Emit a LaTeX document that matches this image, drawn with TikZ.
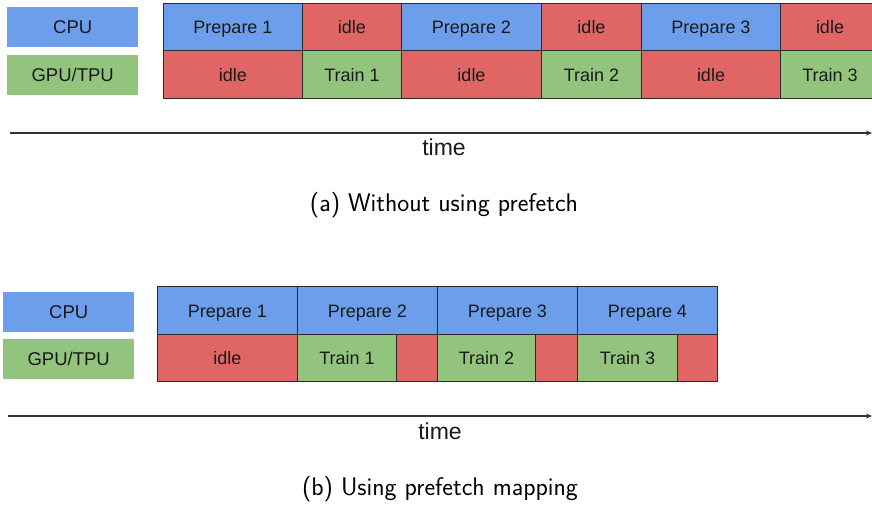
\documentclass[tikz,border=0pt]{standalone}
\usepackage{fontspec}
\setmainfont{Liberation Sans}
\usetikzlibrary{arrows.meta}
\definecolor{cpublue}{HTML}{6D9EEB}
\definecolor{idlered}{HTML}{E06666}
\definecolor{gpugreen}{HTML}{93C47D}
\definecolor{edge}{HTML}{2B2B2B}
\tikzset{
  cell/.style={draw=edge, line width=1pt, anchor=north west, inner sep=0pt,
    text height=13pt, text depth=0pt,
    font=\fontsize{18}{20}\selectfont, text=black!90},
  legend/.style={anchor=north west, inner sep=0pt, minimum width=131pt, minimum height=40pt,
    text height=13pt, text depth=0pt,
    font=\fontsize{18.5}{20}\selectfont, text=black!90},
  cpu/.style={fill=cpublue},
  idle/.style={fill=idlered},
  gpu/.style={fill=gpugreen},
  timeline/.style={line width=1.1pt, draw=black!80, -{Stealth[length=6pt,width=5pt]}},
  timelabel/.style={font=\fontsize{23}{25}\selectfont, text=black!90},
  caption/.style={font=\fontsize{25.5}{28}\sffamily\selectfont, text=black}
}
\begin{document}
\begin{tikzpicture}[x=1pt, y=-1pt]
\useasboundingbox (0,0) rectangle (872,507);
\clip (0,0) rectangle (872,507);

% ---------- (a) without prefetch ----------
\node[legend, cpu] (la1) at (7,7) {CPU};
\node[legend, gpu] (la2) at (7,55) {GPU/TPU};

\node[cell, cpu,  minimum width=139pt, minimum height=47pt] (ac1) at (163,3)  {Prepare 1};
\node[cell, idle, minimum width=99pt,  minimum height=47pt] (ac2) at (302,3)  {idle};
\node[cell, cpu,  minimum width=140pt, minimum height=47pt] (ac3) at (401,3)  {Prepare 2};
\node[cell, idle, minimum width=100pt, minimum height=47pt] (ac4) at (541,3)  {idle};
\node[cell, cpu,  minimum width=139pt, minimum height=47pt] (ac5) at (641,3)  {Prepare 3};
\node[cell, idle, minimum width=99pt,  minimum height=47pt] (ac6) at (780,3)  {idle};

\node[cell, idle, minimum width=139pt, minimum height=48pt] (ag1) at (163,50) {idle};
\node[cell, gpu,  minimum width=99pt,  minimum height=48pt] (ag2) at (302,50) {Train 1};
\node[cell, idle, minimum width=140pt, minimum height=48pt] (ag3) at (401,50) {idle};
\node[cell, gpu,  minimum width=100pt, minimum height=48pt] (ag4) at (541,50) {Train 2};
\node[cell, idle, minimum width=139pt, minimum height=48pt] (ag5) at (641,50) {idle};
\node[cell, gpu,  minimum width=99pt,  minimum height=48pt] (ag6) at (780,50) {Train 3};

\coordinate (ta0) at (10,133);
\coordinate (ta1) at (872,133);
\draw[timeline] (ta0) -- (ta1);
\node[timelabel] (tal) at (444,147) {time};
\node[caption] (capa) at (444,205) {(a) Without using prefetch};

% ---------- (b) using prefetch ----------
\node[legend, cpu] (lb1) at (3,292) {CPU};
\node[legend, gpu] (lb2) at (3,339) {GPU/TPU};

\node[cell, cpu, minimum width=140pt, minimum height=48pt] (bc1) at (157,286) {Prepare 1};
\node[cell, cpu, minimum width=140pt, minimum height=48pt] (bc2) at (297,286) {Prepare 2};
\node[cell, cpu, minimum width=140pt, minimum height=48pt] (bc3) at (437,286) {Prepare 3};
\node[cell, cpu, minimum width=140pt, minimum height=48pt] (bc4) at (577,286) {Prepare 4};

\node[cell, idle, minimum width=140pt, minimum height=47pt] (bg1) at (157,334) {idle};
\node[cell, gpu,  minimum width=99pt,  minimum height=47pt] (bg2) at (297,334) {Train 1};
\node[cell, idle, minimum width=41pt,  minimum height=47pt] (bg3) at (396,334) {};
\node[cell, gpu,  minimum width=98pt,  minimum height=47pt] (bg4) at (437,334) {Train 2};
\node[cell, idle, minimum width=42pt,  minimum height=47pt] (bg5) at (535,334) {};
\node[cell, gpu,  minimum width=100pt, minimum height=47pt] (bg6) at (577,334) {Train 3};
\node[cell, idle, minimum width=40pt,  minimum height=47pt] (bg7) at (677,334) {};

\coordinate (tb0) at (8,416);
\coordinate (tb1) at (872,416);
\draw[timeline] (tb0) -- (tb1);
\node[timelabel] (tbl) at (440,431) {time};
\node[caption] (capb) at (440,489) {(b) Using prefetch mapping};
\end{tikzpicture}
\end{document}
